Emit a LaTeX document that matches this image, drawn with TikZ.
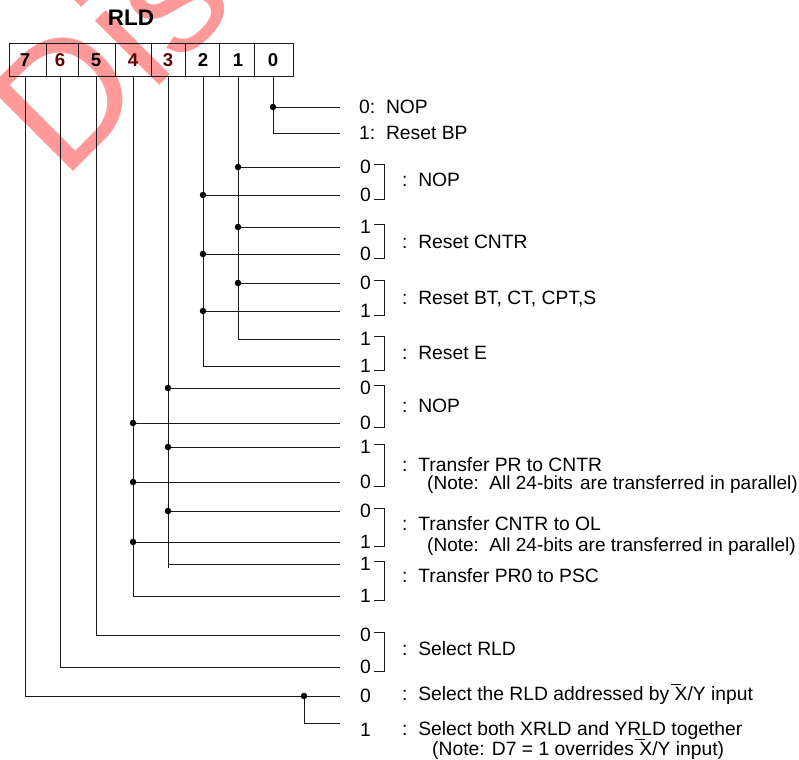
\documentclass[tikz,border=0pt]{standalone}
\usepackage{fontspec}
\setmainfont{Liberation Sans}
\newcommand\ovlX{\rlap{\kern-4pt\rule[16pt]{10pt}{0.8pt}}X}
\definecolor{wmpink}{RGB}{255,153,153}
\begin{document}
\begin{tikzpicture}[x=1pt,y=-1pt,
  ln/.style={line width=0.85pt, black!90},
  dotnode/.style={circle, fill=black, inner sep=0pt, minimum size=6.5pt},
  txt/.style={anchor=base west, inner sep=0pt, font=\fontsize{19.3}{22}\selectfont},
  notetxt/.style={anchor=base west, inner sep=0pt, font=\fontsize{19}{22}\selectfont},
  bitno/.style={inner sep=0pt, font=\fontsize{18.6}{22}\selectfont\bfseries},
  brk/.style={line width=0.85pt, black!90}]
\useasboundingbox (0,0) rectangle (799,759);

% watermark (underlay)
\node[rotate=45, anchor=base west, inner sep=0pt, text=wmpink] (wm)
  at (63.4,181.6) {\fontsize{172}{172}\selectfont Disc};

% title and register
\node[inner sep=0pt, font=\fontsize{22.5}{26}\selectfont\bfseries] (title) at (131,18) {RLD};
\node[draw, ln, minimum width=284pt, minimum height=33pt, inner sep=0pt] (reg) at (151,59.5) {};
\foreach \x in {46,78,115,151,185,219,254} \draw[ln] (\x,43) -- (\x,76);
\node[bitno] (n7) at (25,60) {7};
\node[bitno, text=red!40!black] (n6) at (60,60) {6};
\node[bitno] (n5) at (96,60) {5};
\node[bitno, text=red!40!black] (n4) at (133,60) {4};
\node[bitno, text=red!40!black] (n3) at (168,60) {3};
\node[bitno] (n2) at (203,60) {2};
\node[bitno] (n1) at (238,60) {1};
\node[bitno] (n0) at (273,60) {0};

% row end coordinates
\foreach \r/\y in {a/107,b/133,c/167,d/195,e/227,f/254,g/283,h/311,i/339,j/366,
                   k/388,l/423,m/447,n/482,o/511,p/542,q/564,r/596,s/635,t/667,u/696,v/723}
  \coordinate (r\r) at (340,\y);

% bit 0
\draw[ln] (n0 |- reg.south) -- (273,133) -- (rb);
\node[dotnode] (d0a) at (273,107) {};
\draw[ln] (d0a) -- (ra);
% bit 1
\draw[ln] (n1 |- reg.south) -- (238,339) -- (ri);
\node[dotnode] (d1a) at (238,167) {};
\node[dotnode] (d1b) at (238,227) {};
\node[dotnode] (d1c) at (238,283) {};
\draw[ln] (d1a) -- (rc);
\draw[ln] (d1b) -- (re);
\draw[ln] (d1c) -- (rg);
% bit 2
\draw[ln] (n2 |- reg.south) -- (203,366) -- (rj);
\node[dotnode] (d2a) at (203,195) {};
\node[dotnode] (d2b) at (203,254) {};
\node[dotnode] (d2c) at (203,311) {};
\draw[ln] (d2a) -- (rd);
\draw[ln] (d2b) -- (rf);
\draw[ln] (d2c) -- (rh);
% bit 3
\draw[ln] (n3 |- reg.south) -- (168,568);
\draw[ln] (168,564) -- (rq);
\node[dotnode] (d3a) at (168,388) {};
\node[dotnode] (d3b) at (168,447) {};
\node[dotnode] (d3c) at (168,511) {};
\draw[ln] (d3a) -- (rk);
\draw[ln] (d3b) -- (rm);
\draw[ln] (d3c) -- (ro);
% bit 4
\draw[ln] (n4 |- reg.south) -- (133,596) -- (rr);
\node[dotnode] (d4a) at (133,423) {};
\node[dotnode] (d4b) at (133,482) {};
\node[dotnode] (d4c) at (133,542) {};
\draw[ln] (d4a) -- (rl);
\draw[ln] (d4b) -- (rn);
\draw[ln] (d4c) -- (rp);
% bit 5, 6
\draw[ln] (n5 |- reg.south) -- (96,635) -- (rs);
\draw[ln] (n6 |- reg.south) -- (60,667) -- (rt);
% bit 7
\draw[ln] (n7 |- reg.south) -- (25,696) -- (ru);
\node[dotnode] (d7) at (304,696) {};
\draw[ln] (d7) -- (304,723) -- (rv);

% brackets
\foreach \a/\b in {167/195,227/254,283/311,339/366,388/423,447/482,511/542,564/596,635/667}
  \draw[brk] (374,\a-3) -- (384,\a-3) -- (384,\b+4) -- (374,\b+4);

% digits
\foreach \y/\v in {167/0,195/0,227/1,254/0,283/0,311/1,339/1,366/1,
                   388/0,423/0,447/1,482/0,511/0,542/1,564/1,596/1,635/0,667/0,696/0,730/1}
  \node[txt] at (360,\y+6.8) {\v};

% labels
\node[txt] (la) at (359,113.8) {0:~~NOP};
\node[txt] (lb) at (359,139.8) {1:~~Reset BP};
\node[txt] (l1) at (402,187) {:~~NOP};
\node[txt] (l2) at (402,248) {:~~Reset CNTR};
\node[txt] (l3) at (402,304) {:~~Reset BT, CT, CPT,S};
\node[txt] (l4) at (402,359) {:~~Reset E};
\node[txt] (l5) at (402,412) {:~~NOP};
\node[txt] (l6) at (402,471) {:~~Transfer PR to CNTR};
\node[notetxt] (l6n) at (427,489.8) {(Note:~~All 24-bits\hspace{2pt} are transferred in parallel)};
\node[txt] (l7) at (402,530) {:~~Transfer CNTR to OL};
\node[notetxt] (l7n) at (427,551.8) {(Note:~~All 24-bits are transferred in parallel)};
\node[txt] (l8) at (402,582.8) {:~~Transfer PR0 to PSC};
\node[txt] (l9) at (402,655) {:~~Select RLD};
\node[txt] (l10) at (402,700.8) {:~~Select the RLD addressed by \ovlX/Y input};
\node[txt] (l11) at (402,735.8) {:~~Select both XRLD and YRLD together};
\node[txt] (l11n) at (432,755.8) {(Note: D7 = 1 overrides \ovlX/Y input)};
\end{tikzpicture}
\end{document}
